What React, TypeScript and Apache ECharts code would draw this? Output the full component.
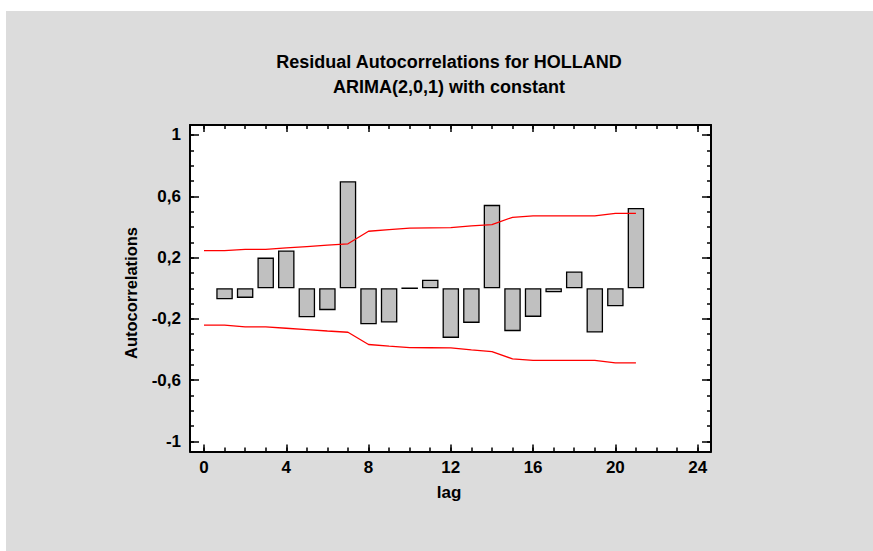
import React, { useEffect, useRef } from "react";
import * as echarts from "echarts";

const lags = [1, 2, 3, 4, 5, 6, 7, 8, 9, 10, 11, 12, 13, 14, 15, 16, 17, 18, 19, 20, 21];
const autocorrelations = [
  -0.072, -0.063, 0.2, 0.246, -0.189, -0.143, 0.698, -0.235, -0.224, 0.0, 0.055,
  -0.324, -0.226, 0.544, -0.28, -0.187, -0.026, 0.109, -0.289, -0.117, 0.524,
];
const limitLags = [0, 1, 2, 3, 4, 5, 6, 7, 8, 9, 10, 11, 12, 13, 14, 15, 16, 17, 18, 19, 20, 21];
const upperLimit = [
  0.246, 0.246, 0.254, 0.254, 0.263, 0.272, 0.281, 0.29, 0.372, 0.383, 0.392, 0.394,
  0.396, 0.407, 0.415, 0.463, 0.472, 0.472, 0.472, 0.472, 0.489, 0.489,
];
const lowerLimit = [
  -0.241, -0.241, -0.252, -0.252, -0.261, -0.27, -0.279, -0.287, -0.367, -0.378, -0.387,
  -0.388, -0.389, -0.402, -0.413, -0.461, -0.47, -0.47, -0.47, -0.47, -0.487, -0.487,
];
const xMajorTicks = [0, 4, 8, 12, 16, 20, 24];
const xMinorTicks = [0, 1, 2, 3, 4, 5, 6, 7, 8, 9, 10, 11, 12, 13, 14, 15, 16, 17, 18, 19, 20, 21, 22, 23, 24];
const yMajorTicks = [-1, -0.6, -0.2, 0.2, 0.6, 1];
const yMinorTicks = [-1, -0.9, -0.8, -0.7, -0.6, -0.5, -0.4, -0.3, -0.2, -0.1, 0, 0.1, 0.2, 0.3, 0.4, 0.5, 0.6, 0.7, 0.8, 0.9, 1];
const titleLines = ["Residual Autocorrelations for HOLLAND", "ARIMA(2,0,1) with constant"];
const xName = "lag";
const yName = "Autocorrelations";

const FONT = "'Liberation Sans', Arial, Helvetica, sans-serif";
const X_MIN = -0.68;
const X_MAX = 24.65;
const Y_MIN = -1.065;
const Y_MAX = 1.065;

function xAxisDef(position: string, ticks: number[], len: number, showLine: boolean, showLabel: boolean) {
  return {
    type: "value",
    gridIndex: 0,
    position,
    min: X_MIN,
    max: X_MAX,
    axisLine: { show: showLine, onZero: false, lineStyle: { color: "#000", width: 2 } },
    axisTick: { show: true, inside: true, length: len, customValues: ticks, lineStyle: { color: "#000", width: 1.5 } },
    axisLabel: {
      show: showLabel,
      customValues: xMajorTicks,
      color: "#000",
      fontFamily: FONT,
      fontWeight: "bold",
      fontSize: 17,
      margin: 7,
    },
    splitLine: { show: false },
  };
}

function yAxisDef(position: string, ticks: number[], len: number, showLine: boolean, showLabel: boolean) {
  return {
    type: "value",
    gridIndex: 0,
    position,
    min: Y_MIN,
    max: Y_MAX,
    axisLine: { show: showLine, onZero: false, lineStyle: { color: "#000", width: 2 } },
    axisTick: { show: true, inside: true, length: len, customValues: ticks, lineStyle: { color: "#000", width: 1.5 } },
    axisLabel: {
      show: showLabel,
      customValues: yMajorTicks,
      formatter: (v: number) => String(v).replace(".", ","),
      color: "#000",
      fontFamily: FONT,
      fontWeight: "bold",
      fontSize: 17,
      margin: 9,
      padding: [5, 0, 0, 0],
    },
    splitLine: { show: false },
  };
}

const textStyle = (text: string) => ({
  text,
  textAlign: "center",
  textVerticalAlign: "middle",
  fontFamily: FONT,
  fontWeight: "bold",
  fill: "#000",
});

export default function App() {
  const ref = useRef<HTMLDivElement>(null);

  useEffect(() => {
    if (!ref.current) return;
    const chart = echarts.init(ref.current, null, { renderer: "svg" });
    chart.setOption({
      animation: false,
      backgroundColor: "#ffffff",
      grid: { left: 190, top: 125, right: 162, bottom: 99.5, containLabel: false },
      graphic: [
        {
          type: "rect",
          z: -10,
          silent: true,
          shape: { x: 6, y: 11, width: 867, height: 540 },
          style: { fill: "#dcdcdc" },
        },
        {
          type: "rect",
          z: -9,
          silent: true,
          shape: { x: 190, y: 125, width: 521, height: 326.5 },
          style: { fill: "#ffffff" },
        },
        { type: "text", x: 449, y: 62, style: { ...textStyle(titleLines[0]), fontSize: 18 } },
        { type: "text", x: 449, y: 87, style: { ...textStyle(titleLines[1]), fontSize: 18 } },
        { type: "text", x: 449, y: 492, style: { ...textStyle(xName), fontSize: 17 } },
        { type: "text", x: 131, y: 293, rotation: Math.PI / 2, style: { ...textStyle(yName), fontSize: 16.5 } },
      ],
      xAxis: [
        xAxisDef("bottom", xMajorTicks, 7, true, true),
        xAxisDef("bottom", xMinorTicks, 4, false, false),
        xAxisDef("top", xMajorTicks, 7, true, false),
        xAxisDef("top", xMinorTicks, 4, false, false),
      ],
      yAxis: [
        yAxisDef("left", yMajorTicks, 9, true, true),
        yAxisDef("left", yMinorTicks, 4, false, false),
        yAxisDef("right", yMajorTicks, 9, true, false),
        yAxisDef("right", yMinorTicks, 4, false, false),
      ],
      series: [
        {
          type: "bar",
          xAxisIndex: 0,
          yAxisIndex: 0,
          barWidth: 16.5,
          data: autocorrelations.map((v, i) => [lags[i], v]),
          itemStyle: { color: "#c0c0c0", borderColor: "#000", borderWidth: 1.3 },
        },
        {
          type: "line",
          xAxisIndex: 0,
          yAxisIndex: 0,
          symbol: "none",
          data: upperLimit.map((v, i) => [limitLags[i], v]),
          lineStyle: { color: "#ff0000", width: 1.3 },
        },
        {
          type: "line",
          xAxisIndex: 0,
          yAxisIndex: 0,
          symbol: "none",
          data: lowerLimit.map((v, i) => [limitLags[i], v]),
          lineStyle: { color: "#ff0000", width: 1.3 },
        },
      ],
    });
    return () => chart.dispose();
  }, []);

  return (
    <div
      ref={ref}
      style={{ position: "absolute", left: 0, top: 0, width: 873, height: 551 }}
    />
  );
}
